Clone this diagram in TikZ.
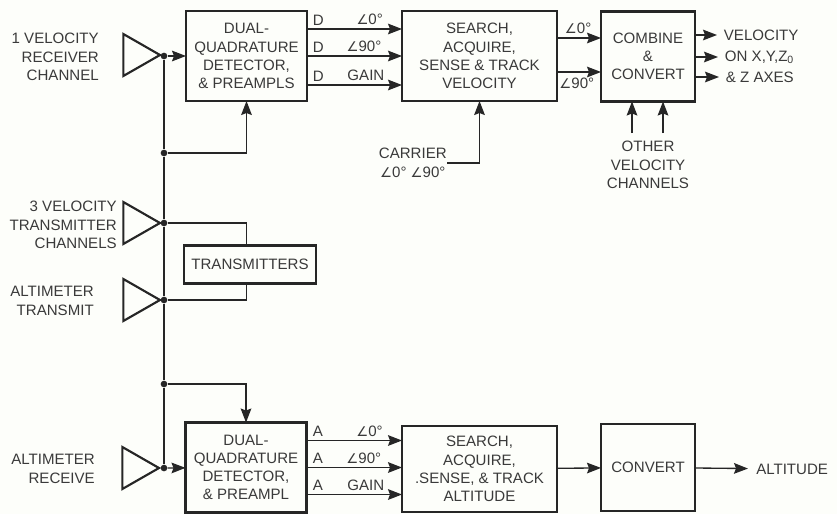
\documentclass[tikz,border=0pt]{standalone}
\usepackage{fontspec}
\setmainfont{Liberation Sans}
\newfontfamily\symfont{DejaVu Sans}
\usepackage{xcolor}
\usepackage{tikz}
\usetikzlibrary{shapes.geometric, arrows.meta, positioning, calc}
\definecolor{paper}{HTML}{FDFEFA}
\definecolor{ink}{HTML}{262626}
\definecolor{lettering}{HTML}{3A3A3A}
\newcommand{\angl}{{\symfont\fontsize{10}{10}\selectfont ∠}}

\begin{document}
\begin{tikzpicture}[
    x=0.75pt, y=-0.75pt,
    txt/.style={inner sep=0pt, align=center, text=lettering, font=\fontsize{11.3}{13.8}\selectfont},
    box/.style={rectangle, draw=ink, line width=1.6pt, fill=none, minimum height=67.5pt, outer sep=0pt,
                inner sep=0pt, align=center, text=lettering, font=\fontsize{11.3}{13.6}\selectfont},
    amp/.style={isosceles triangle, isosceles triangle stretches, draw=ink, line width=1.6pt,
                minimum width=31.5pt, minimum height=27.5pt, inner sep=0pt, outer sep=0pt, anchor=apex},
    dot/.style={circle, fill=ink, minimum size=5pt, inner sep=0pt},
    wire/.style={draw=ink, line width=1pt},
    arrow/.style={wire, -{Stealth[length=10.5pt, width=8pt, inset=1.5pt]}},
    tag/.style={txt, above=2.5pt},
]
\useasboundingbox[fill=paper] (0,0) rectangle (837,514);

\node[box, minimum width=90.75pt]  (det1)  at (246.5,56)  {DUAL-\\QUADRATURE\\DETECTOR,\\\& PREAMPLS};
\node[box, minimum width=116.25pt] (srch1) at (479.5,56)  {SEARCH,\\ACQUIRE,\\SENSE \& TRACK\\VELOCITY};
\node[box, minimum width=70.5pt]   (comb)  at (648,56.5)  {COMBINE\\\&\\CONVERT};
\node[box, minimum width=99pt, minimum height=28.5pt] (trans) at (250,264.5) {TRANSMITTERS};
\node[box, minimum width=90.75pt]  (det2)  at (246,467.5) {DUAL-\\QUADRATURE\\DETECTOR,\\\& PREAMPL};
\node[box, minimum width=116.25pt, minimum height=64.5pt] (srch2) at (479.5,469) {SEARCH,\\ACQUIRE,\\.SENSE, \& TRACK\\ALTITUDE};
\node[box, minimum width=70.5pt, minimum height=65.25pt]  (conv)  at (648,467.5) {CONVERT};

\node[amp] (amp1) at (160,55)  {};
\node[amp] (amp2) at (160,223) {};
\node[amp] (amp3) at (160,300) {};
\node[amp] (amp4) at (159,468) {};

\node[dot] (n1) at (164,56)  {};
\node[dot] (n2) at (164,153) {};
\node[dot] (n3) at (164,223) {};
\node[dot] (n4) at (164,300) {};
\node[dot] (n5) at (164,384) {};
\node[dot] (n6) at (164,468) {};

\node[txt, anchor=east, align=right] (lab1) at (99,57)   {1 VELOCITY\\RECEIVER\\CHANNEL};
\node[txt, anchor=east, align=right] (lab2) at (117,225) {3 VELOCITY\\TRANSMITTER\\CHANNELS};
\node[txt, anchor=east, align=right] (lab3) at (94,301)  {ALTIMETER\\TRANSMIT};
\node[txt, anchor=east, align=right] (lab4) at (95,469)  {ALTIMETER\\RECEIVE};
\node[txt, anchor=east] (carrier) at (447,163) {CARRIER\\\angl0° \angl90°};
\node[txt] (other) at (648,165) {OTHER\\VELOCITY\\CHANNELS};
\node[txt, anchor=west, inner sep=5pt] (vel1) at (717,35) {VELOCITY};
\node[txt, anchor=west, inner sep=5pt] (vel2) at (718,57) {ON X,Y,Z\textsubscript{0}};
\node[txt, anchor=west, inner sep=5pt] (vel3) at (719,77) {\& Z AXES};
\node[txt, anchor=west, inner sep=6pt] (alt)  at (748,469) {ALTITUDE};

\coordinate (oa) at (632,133);
\coordinate (ob) at (663,133);

\draw[wire]  (amp1.apex) -- (n1);
\draw[wire]  (amp2.apex) -- (n3);
\draw[wire]  (amp3.apex) -- (n4);
\draw[wire]  (amp4.apex) -- (n6);
\draw[wire]  (n1) -- (n2);
\draw[wire]  (n2) -- (n3);
\draw[wire]  (n3) -- (n4);
\draw[wire]  (n4) -- (n5);
\draw[wire]  (n5) -- (n6);
\draw[arrow] (n1) -- (det1);
\draw[arrow] (n6) -- (det2);
\draw[arrow] (n2) -| (det1);
\draw[arrow] (n5) -| (det2);
\draw[wire]  (n3) -| (trans.north -| det1);
\draw[wire]  (n4) -| (trans.south -| det1);

\draw[arrow] ($(det1.east)+(0,-27)$) -- node[tag, pos=0.12]{D} node[tag, pos=0.66]{\angl0°} ($(srch1.west)+(0,-27)$);
\draw[arrow] (det1.east) -- node[tag, pos=0.12]{D} node[tag, pos=0.6]{\angl90°} (srch1.west);
\draw[arrow] ($(det1.east)+(0,29)$) -- node[tag, pos=0.12]{D} node[tag, pos=0.62]{GAIN} ($(srch1.west)+(0,29)$);
\draw[arrow] ($(srch1.east)+(0,-18)$) -- node[tag, pos=0.48]{\angl0°} ($(comb.west)+(0,-18.5)$);
\draw[arrow] ($(srch1.east)+(0,16)$) -- node[txt, below=4pt, pos=0.45]{\angl90°} ($(comb.west)+(0,15.5)$);
\draw[arrow] (carrier.east) -| (srch1.south);
\draw[arrow] (oa) -- (oa |- comb.south);
\draw[arrow] (ob) -- (ob |- comb.south);
\draw[arrow] (comb.east |- vel1) -- (vel1);
\draw[arrow] (comb.east |- vel2) -- (vel2);
\draw[arrow] (comb.east |- vel3) -- (vel3);

\draw[arrow] ($(det2.east)+(0,-27)$) -- node[tag, pos=0.12]{A} node[tag, pos=0.66]{\angl0°} ($(srch2.west)+(0,-28.5)$);
\draw[arrow] (det2.east) -- node[tag, pos=0.12]{A} node[tag, pos=0.6]{\angl90°} (srch2.west |- det2.east);
\draw[arrow] ($(det2.east)+(0,27)$) -- node[tag, pos=0.12]{A} node[tag, pos=0.62]{GAIN} ($(srch2.west)+(0,25.5)$);
\draw[arrow] (srch2) -- (conv);
\draw[arrow] (conv) -- (alt);
\end{tikzpicture}
\end{document}
